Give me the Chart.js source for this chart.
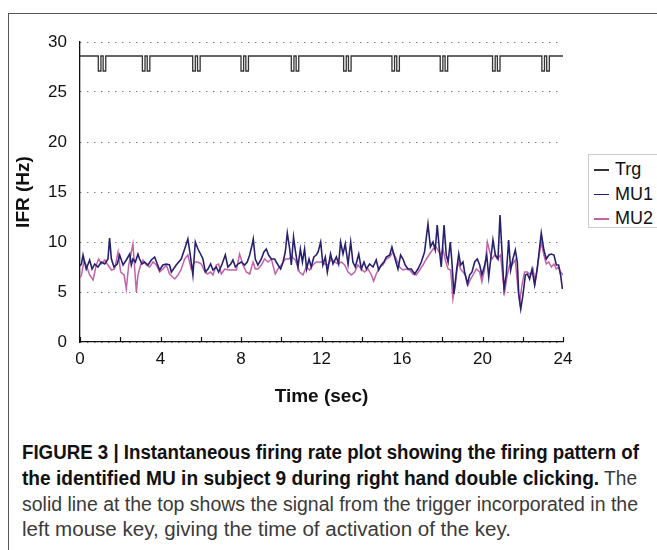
<!DOCTYPE html>
<html>
<head>
<meta charset="utf-8">
<script src="https://cdn.jsdelivr.net/npm/chart.js@4"></script>
<style>
  body { margin: 0; background: #fff; width: 657px; height: 550px; overflow: hidden; position: relative; font-family: "Liberation Sans", Arial, sans-serif; }
  #marco { position: absolute; left: 8px; top: 13px; width: 700px; height: 600px; border-left: 1.5px solid #555; border-top: 1.5px solid #555; }
  #lienzo { position: absolute; left: 0; top: 0; }
  #leyenda { position: absolute; left: 588px; top: 154px; width: 80px; height: 72px; border: 1px solid #ccc; background: #fff; }
  .item { position: absolute; left: 5px; height: 20px; font-size: 18px; line-height: 20px; color: #111; }
  .item span.linea { position: absolute; left: 0; top: 10px; width: 15px; height: 1.5px; }
  .item span.txt { position: absolute; left: 21px; top: 0; white-space: nowrap; }
  .cap { position: absolute; left: 22px; white-space: nowrap; font-size: 19.5px; line-height: 20px; color: #3a3a3a; }
  .cap span.linea-cap { display: inline-block; transform-origin: 0 50%; }
  .cap b { color: #111; }
</style>
</head>
<body>
<div id="marco"></div>
<canvas id="lienzo" width="657" height="420"></canvas>
<div id="leyenda"></div>
<div class="cap" style="top:442px" data-ancho="617"><span class="linea-cap"><b>FIGURE 3 | Instantaneous firing rate plot showing the firing pattern of</b></span></div>
<div class="cap" style="top:468px" data-ancho="615"><span class="linea-cap"><b>the identified MU in subject 9 during right hand double clicking.</b> The</span></div>
<div class="cap" style="top:494px" data-ancho="616"><span class="linea-cap">solid line at the top shows the signal from the trigger incorporated in the</span></div>
<div class="cap" style="top:519px" data-ancho="489"><span class="linea-cap">left mouse key, giving the time of activation of the key.</span></div>
<script>
// Series names and colours
const nombres = ["Trg", "MU1", "MU2"];
const colores = ["#333333", "#27206f", "#c462a6"];

// Trigger signal (time in sec, IFR in Hz)
const trgTiempo = [
  0, 0.91, 0.91, 1.04, 1.04, 1.15, 1.15, 1.28, 1.28,
  3.10, 3.10, 3.23, 3.23, 3.34, 3.34, 3.47, 3.47,
  5.60, 5.60, 5.73, 5.73, 5.84, 5.84, 5.97, 5.97,
  8.00, 8.00, 8.13, 8.13, 8.24, 8.24, 8.37, 8.37,
  10.50, 10.50, 10.63, 10.63, 10.74, 10.74, 10.87, 10.87,
  13.10, 13.10, 13.23, 13.23, 13.34, 13.34, 13.47, 13.47,
  15.50, 15.50, 15.63, 15.63, 15.74, 15.74, 15.87, 15.87,
  17.90, 17.90, 18.03, 18.03, 18.14, 18.14, 18.27, 18.27,
  20.50, 20.50, 20.63, 20.63, 20.74, 20.74, 20.87, 20.87,
  22.95, 22.95, 23.08, 23.08, 23.19, 23.19, 23.32, 23.32,
  24
];
const trgValor = [
  28.6, 28.6, 27.1, 27.1, 28.6, 28.6, 27.1, 27.1, 28.6,
  28.6, 27.1, 27.1, 28.6, 28.6, 27.1, 27.1, 28.6,
  28.6, 27.1, 27.1, 28.6, 28.6, 27.1, 27.1, 28.6,
  28.6, 27.1, 27.1, 28.6, 28.6, 27.1, 27.1, 28.6,
  28.6, 27.1, 27.1, 28.6, 28.6, 27.1, 27.1, 28.6,
  28.6, 27.1, 27.1, 28.6, 28.6, 27.1, 27.1, 28.6,
  28.6, 27.1, 27.1, 28.6, 28.6, 27.1, 27.1, 28.6,
  28.6, 27.1, 27.1, 28.6, 28.6, 27.1, 27.1, 28.6,
  28.6, 27.1, 27.1, 28.6, 28.6, 27.1, 27.1, 28.6,
  28.6, 27.1, 27.1, 28.6, 28.6, 27.1, 27.1, 28.6,
  28.6
];

// MU1
const mu1Tiempo = [
  0, 0.07, 0.15, 0.31, 0.48, 0.60, 0.73, 0.89, 1.06, 1.23, 1.39, 1.47, 1.56, 1.69, 1.85, 1.97,
  2.14, 2.30, 2.47, 2.55, 2.63, 2.75, 2.88, 2.96, 3.08, 3.21, 3.38, 3.54, 3.71, 3.84, 3.96,
  4.12, 4.29, 4.45, 4.54, 4.78, 5.03, 5.20, 5.36, 5.48, 5.61, 5.73, 5.86, 5.99, 6.11, 6.23,
  6.36, 6.49, 6.61, 6.77, 6.89, 7.06, 7.22, 7.35, 7.49, 7.60, 7.72, 7.85, 8.02, 8.18, 8.31,
  8.43, 8.55, 8.61, 8.71, 8.84, 9.01, 9.14, 9.26, 9.37, 9.51, 9.67, 9.84, 9.97, 10.09, 10.20,
  10.30, 10.42, 10.50, 10.61, 10.71, 10.83, 10.95, 11.05, 11.16, 11.26, 11.38, 11.49, 11.62,
  11.74, 11.83, 11.96, 12.07, 12.19, 12.29, 12.45, 12.57, 12.74, 12.85, 12.95, 13.07, 13.18,
  13.32, 13.45, 13.56, 13.68, 13.85, 13.98, 14.11, 14.23, 14.39, 14.56, 14.72, 14.84, 14.97,
  15.10, 15.22, 15.39, 15.50, 15.63, 15.80, 15.93, 16.05, 16.16, 16.30, 16.46, 16.63, 16.79,
  16.96, 17.12, 17.29, 17.41, 17.54, 17.65, 17.75, 17.87, 17.95, 18.09, 18.20, 18.29, 18.40,
  18.48, 18.58, 18.70, 18.82, 18.91, 19.03, 19.11, 19.25, 19.36, 19.48, 19.61, 19.74, 19.86,
  19.97, 20.11, 20.21, 20.31, 20.41, 20.52, 20.64, 20.77, 20.87, 20.97, 21.07, 21.18, 21.30,
  21.40, 21.51, 21.63, 21.73, 21.80, 21.90, 22.01, 22.13, 22.23, 22.34, 22.46, 22.59, 22.72,
  22.84, 22.92, 23.05, 23.17, 23.30, 23.42, 23.55, 23.67, 23.78, 23.88, 23.97
];
const mu1Valor = [
  7.6, 7.8, 8.7, 7.3, 8.2, 7.3, 7.8, 7.5, 8.0, 7.8, 8.3, 10.4, 8.3, 7.5, 7.8, 8.7,
  7.7, 8.2, 8.8, 7.7, 8.3, 8.0, 8.8, 8.3, 7.8, 8.0, 7.7, 8.2, 8.5, 7.8, 7.2,
  7.7, 7.8, 7.7, 7.0, 7.7, 8.3, 9.3, 10.3, 8.7, 6.7, 10.0, 9.3, 8.8, 8.3, 7.0,
  7.3, 7.8, 7.2, 7.5, 7.0, 7.8, 8.7, 7.5, 7.8, 8.2, 7.5, 7.8, 8.0, 7.7, 8.0,
  8.7, 9.7, 10.3, 8.3, 7.7, 8.3, 9.0, 9.3, 8.7, 8.3, 8.3, 7.7, 7.3, 8.0, 9.0,
  10.9, 9.3, 7.7, 10.5, 9.0, 7.5, 9.3, 8.0, 9.3, 7.3, 8.3, 7.5, 8.5,
  8.7, 9.0, 10.0, 7.7, 8.5, 7.0, 8.8, 7.8, 8.5, 7.8, 10.0, 8.8, 9.8,
  7.8, 10.0, 8.0, 7.5, 8.8, 7.3, 8.0, 7.3, 7.8, 7.5, 8.2, 7.2, 7.7,
  8.0, 8.5, 8.7, 9.5, 8.5, 7.3, 8.7, 8.3, 7.7, 7.3, 7.3, 6.8, 7.3,
  8.0, 9.0, 11.8, 9.5, 10.0, 9.2, 11.7, 9.0, 7.5, 11.7, 8.7, 8.0, 10.0,
  8.0, 4.8, 7.0, 8.8, 7.7, 8.0, 7.0, 5.8, 6.7, 7.0, 8.0, 8.3, 7.7,
  6.7, 7.7, 8.7, 6.5, 8.3, 10.2, 8.7, 8.3, 12.7, 9.0, 5.3, 6.7, 10.2,
  7.2, 8.3, 9.2, 8.0, 4.8, 3.3, 4.7, 6.7, 6.8, 6.3, 7.3, 5.7, 7.3,
  9.5, 10.9, 9.2, 8.3, 8.7, 8.8, 8.7, 7.7, 7.7, 6.7, 5.3
];

// MU2
const mu2Tiempo = [
  0, 0.07, 0.20, 0.31, 0.48, 0.65, 0.81, 0.93, 1.06, 1.23, 1.39, 1.56, 1.72, 1.89, 2.02,
  2.19, 2.30, 2.42, 2.52, 2.63, 2.72, 2.80, 2.88, 3.01, 3.13, 3.29, 3.46, 3.63, 3.79, 3.96,
  4.12, 4.29, 4.45, 4.70, 4.87, 5.03, 5.20, 5.36, 5.53, 5.70, 5.86, 6.03, 6.16, 6.33, 6.49,
  6.61, 6.77, 6.89, 7.02, 7.19, 7.39, 7.60, 7.77, 7.93, 8.10, 8.26, 8.43, 8.60, 8.71, 8.84,
  9.01, 9.17, 9.34, 9.51, 9.70, 9.84, 10.00, 10.20, 10.37, 10.53, 10.70, 10.91, 11.08,
  11.24, 11.41, 11.57, 11.74, 11.99, 12.16, 12.32, 12.49, 12.65, 12.82, 12.99, 13.15,
  13.32, 13.48, 13.65, 13.81, 13.98, 14.14, 14.31, 14.48, 14.59, 14.72, 14.89, 15.05,
  15.22, 15.39, 15.55, 15.72, 15.88, 16.05, 16.21, 16.38, 16.54, 16.71, 16.88, 17.04,
  17.21, 17.37, 17.54, 17.70, 17.92, 18.04, 18.15, 18.29, 18.42, 18.53, 18.65, 18.78,
  18.91, 19.03, 19.15, 19.28, 19.41, 19.53, 19.69, 19.86, 19.97, 20.11, 20.24, 20.36,
  20.47, 20.60, 20.74, 20.90, 21.02, 21.10, 21.23, 21.35, 21.46, 21.63, 21.76, 21.85,
  21.96, 22.09, 22.23, 22.39, 22.51, 22.62, 22.76, 22.92, 23.05, 23.17, 23.29, 23.42,
  23.55, 23.67, 23.78, 23.88, 24.0
];
const mu2Valor = [
  6.4, 6.7, 8.1, 7.7, 6.7, 6.2, 7.7, 8.3, 7.8, 8.2, 7.7, 7.2, 7.3, 9.0, 7.0,
  6.7, 5.3, 7.7, 8.7, 9.8, 7.3, 5.0, 6.7, 7.7, 8.2, 7.7, 7.5, 8.0, 7.7, 7.0,
  7.3, 7.7, 6.8, 6.3, 6.7, 7.3, 8.3, 8.7, 7.3, 8.0, 8.0, 7.8, 7.2, 6.8, 7.0,
  6.7, 7.7, 7.8, 6.8, 7.3, 7.2, 7.2, 7.2, 8.8, 7.7, 7.0, 6.8, 8.0, 7.3, 7.3,
  7.7, 8.3, 8.0, 8.3, 6.8, 7.3, 7.7, 8.3, 8.3, 8.5, 8.2, 7.0, 6.7,
  7.5, 7.2, 7.7, 8.0, 8.0, 7.8, 7.7, 8.3, 8.0, 7.8, 8.0, 7.7,
  7.0, 6.7, 7.0, 7.7, 7.3, 7.0, 7.3, 6.7, 6.1, 6.8, 7.5, 7.7,
  8.3, 8.5, 9.0, 8.3, 7.5, 7.2, 7.3, 7.2, 6.8, 6.7, 7.2, 7.7,
  8.3, 8.8, 9.3, 9.5, 8.7, 9.3, 8.2, 7.3, 7.2, 4.3, 5.7, 8.0,
  7.3, 7.0, 6.7, 5.7, 6.3, 6.7, 7.3, 7.0, 6.0, 7.3, 10.0, 9.0,
  8.3, 8.7, 8.3, 8.7, 6.2, 5.0, 6.7, 7.7, 7.7, 8.2, 5.3, 4.0,
  5.7, 7.0, 7.0, 6.7, 7.3, 6.0, 8.0, 10.0, 8.7, 7.8, 8.0, 7.5,
  7.8, 7.3, 7.5, 7.0, 6.7
];

// Axis ticks
const ticksX = [0, 4, 8, 12, 16, 20, 24];
const ticksY = [0, 5, 10, 15, 20, 25, 30];

function aPuntos(tiempos, valores) {
  return tiempos.map((t, i) => ({ x: t, y: valores[i] }));
}

// Leyenda HTML
const leyenda = document.getElementById("leyenda");
nombres.forEach((n, i) => {
  const d = document.createElement("div");
  d.className = "item";
  d.style.top = (4 + i * 24.5) + "px";
  d.innerHTML = '<span class="linea" style="background:' + colores[i] + '"></span><span class="txt">' + n + "</span>";
  leyenda.appendChild(d);
});

// Pie de figura: ajustar cada línea al ancho del original
document.querySelectorAll(".cap").forEach((el) => {
  const s = el.querySelector(".linea-cap");
  const w = s.getBoundingClientRect().width;
  s.style.transform = "scaleX(" + (Number(el.dataset.ancho) / w) + ")";
});

// Marcas del eje X hacia dentro
const marcasX = {
  id: "marcasX",
  afterDraw(chart) {
    const { ctx, chartArea } = chart;
    const x = chart.scales.x;
    ctx.save();
    ctx.strokeStyle = "#111";
    ctx.lineWidth = 1.2;
    x.ticks.forEach((t) => {
      const px = Math.round(x.getPixelForValue(t.value)) + 0.5;
      ctx.beginPath();
      ctx.moveTo(px, chartArea.bottom);
      ctx.lineTo(px, chartArea.bottom - 5);
      ctx.stroke();
    });
    ctx.restore();
  },
};

Chart.defaults.font.family = '"Liberation Sans", Arial, sans-serif';
Chart.defaults.color = "#111";

new Chart(document.getElementById("lienzo"), {
  type: "line",
  data: {
    datasets: [
      { label: nombres[0], data: aPuntos(trgTiempo, trgValor), borderColor: colores[0], borderWidth: 1.3 },
      { label: nombres[1], data: aPuntos(mu1Tiempo, mu1Valor), borderColor: colores[1], borderWidth: 1.6 },
      { label: nombres[2], data: aPuntos(mu2Tiempo, mu2Valor), borderColor: colores[2], borderWidth: 1.5 },
    ],
  },
  options: {
    responsive: false,
    animation: false,
    elements: { point: { radius: 0 }, line: { tension: 0 } },
    layout: { padding: { top: 42, right: 94, left: 0, bottom: 0 } },
    plugins: { legend: { display: false }, tooltip: { enabled: false } },
    scales: {
      x: {
        type: "linear",
        min: 0,
        max: 24,
        ticks: {
          stepSize: 2,
          padding: 7,
          autoSkip: false,
          maxRotation: 0,
          font: { size: 17 },
          callback: (v) => (ticksX.includes(v) ? v : ""),
        },
        grid: { drawOnChartArea: false, drawTicks: false },
        border: { color: "#111", width: 1.3 },
        title: { display: true, text: "Time (sec)", font: { size: 19, weight: "bold" }, padding: { top: 0, bottom: 12 } },
        afterFit: (s) => { s.height = 78; },
      },
      y: {
        min: 0,
        max: 30,
        afterBuildTicks: (s) => { s.ticks = ticksY.map((v) => ({ value: v })); },
        ticks: { padding: 13, font: { size: 17 } },
        grid: { color: "#444", lineWidth: 1, drawTicks: false },
        border: { color: "#111", width: 1.3, dash: [1, 6] },
        title: { display: true, text: "IFR (Hz)", font: { size: 19, weight: "bold" }, padding: { top: 12, bottom: 0 } },
        afterFit: (s) => { s.width = 80; },
      },
    },
  },
  plugins: [marcasX],
});
</script>
</body>
</html>
